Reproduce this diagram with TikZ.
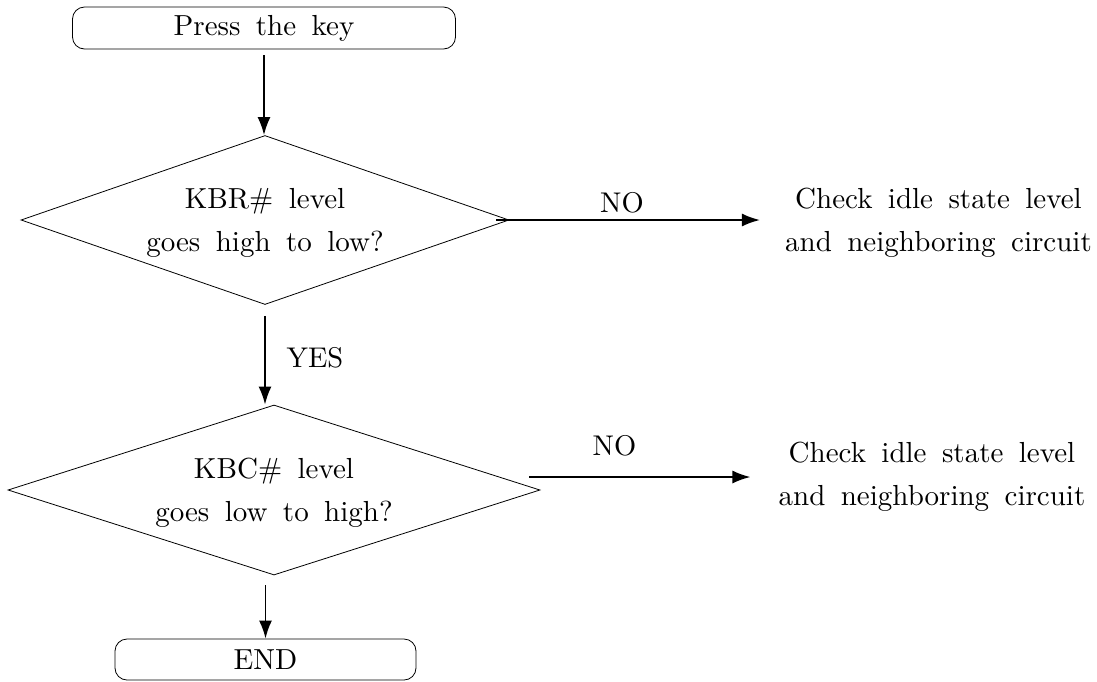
\documentclass[tikz,border=0pt]{standalone}
\usepackage{fontspec}
\setmainfont{lmroman10-regular.otf}[WordSpace=1.6]
\newfontfamily\lblfont{lmroman10-regular.otf}
\usetikzlibrary{shapes.geometric,arrows.meta}

\tikzset{
  term/.style={draw, rounded corners=12pt, line width=0.8pt, inner sep=0pt},
  decide/.style={draw, diamond, line width=0.8pt, inner sep=0pt},
  body/.style={font=\fontsize{29}{43}\selectfont, align=center, inner sep=0pt},
  branch/.style={font=\lblfont\fontsize{28.5}{29}\selectfont, inner sep=0pt},
  flow/.style={line width=1.9pt, -{Latex[length=18pt,width=13pt]}},
}

\begin{document}
\begin{tikzpicture}[x=1pt, y=-1pt]
\useasboundingbox (0,0) rectangle (1097,681);
% terminals
\node[term, body, minimum width=383pt, minimum height=42pt] (start) at (264,28) {Press the key};
\node[term, body, minimum width=301pt, minimum height=41pt] (endbox) at (265.5,659.5) {END};
% decisions
\node[decide, minimum width=488pt, minimum height=169pt,
  label={[body, name=q1, yshift=-3pt]center:{KBR\# level\\goes high to low?}}] (d1) at (265,220) {};
\node[decide, minimum width=532pt, minimum height=170pt,
  label={[body, name=q2, yshift=-3pt]center:{KBC\# level\\goes low to high?}}] (d2) at (274,490) {};
% side notes
\node[body, inner xsep=25pt] (check1) at (938.5,223) {Check idle state level\\and neighboring circuit};
\node[body, inner xsep=28pt] (check2) at (932,477) {Check idle state level\\and neighboring circuit};
% branch labels
\node[branch] (no1) at (622,203) {NO};
\node[branch] (no2) at (614.5,446) {NO};
\node[branch] (yes) at (315,358) {YES};
% connectors
\coordinate (n1) at ([xshift=-13pt]d1.east);
\coordinate (n2) at ([xshift=-11pt]d2.east);
\coordinate (e1) at (endbox.north |- d2.south);
\draw[flow] ([yshift=-6pt]start.south) -- (start.south |- d1.north);
\draw[flow] ([yshift=-11pt]d1.south) -- (d1.south |- d2.north);
\draw[flow] ([yshift=-10pt]e1) -- (endbox.north);
\draw[flow] (n1) -- (n1 -| check1.west);
\draw[flow] (n2 |- check2.west) -- (check2.west);
\end{tikzpicture}
\end{document}
